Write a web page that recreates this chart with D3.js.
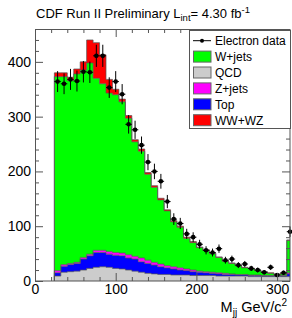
<!DOCTYPE html>
<html><head><meta charset="utf-8">
<script src="https://cdn.jsdelivr.net/npm/d3@7"></script>
<style>body{margin:0;background:#fff}svg{display:block}text{font-family:"Liberation Sans",Arial,sans-serif}</style>
</head><body>
<script>
// ---- data ----
const binStarts = [24,32,40,48,56,64,72,80,88,96,104,112,120,128,136,144,152,160,168,176,184,192,200,208,216,224,232,240,248,256,264,272,280,288,296,304,312];
const binWidth = 8;
const qcd   = [9,16,17,18,20,23,25,26,25,23,22,20,18,16,14,13,12,12,11,11,11,10,10,10,10,9,9,9,9,9,8,8,8,8,8,8,8];
const topQ  = [6,11,13,14,20,23,27,26,24,24,24,22,22,19,18,16,14,12,11,9,8,7,6,5,4,4,3,3,2,2,2,2,1,1,1,1,5];
const zJets = [4,3,2,2,3,3,4,4,5,5,5,6,5,7,6,5,5,4,4,4,3,3,2,2,2,2,2,1,1,1,1,1,1,1,1,1,2];
const wJets = [354,343,334,344,342,349,314,304,289,288,276,249,209,195,157,137,117,100,82,74,56,50,43,39,34,28,22,19,16,12,11,8,6,4,2,3,59];
const wwwz  = [7,7,6,9,15,42,65,53,25,10,5,5,4,4,3,3,3,2,2,2,2,2,1,1,1,1,1,1,1,1,1,1,1,1,1,1,1];
const dataCounts = [364,360,368,365,382,381,411,411,353,364,341,286,276,248,217,200,182,145,113,105,86,80,67,56,52,59,38,40,29,31,23,20,16,25,11,15,90];
const xTicksMajor = [0,100,200,300];
const yTicksMajor = [0,100,200,300,400];
const seriesNames = ["QCD","Top","Z+jets","W+jets","WW+WZ"];
const seriesColors = {"QCD":"#cccccc","Top":"#0000ff","Z+jets":"#ff00ff","W+jets":"#00ff00","WW+WZ":"#ff0000"};
const legendOrder = ["W+jets","QCD","Z+jets","Top","WW+WZ"];

// ---- build ----
const W = 292, H = 318;
const x = d3.scaleLinear().domain([0,316]).range([35,290]);
const y = d3.scaleLinear().domain([0,460]).range([281,29]);

const rows = binStarts.map((b,i)=>({x0:b, x1:b+binWidth, "QCD":qcd[i], "Top":topQ[i], "Z+jets":zJets[i], "W+jets":wJets[i], "WW+WZ":wwwz[i]}));
const stacked = d3.stack().keys(seriesNames)(rows);

const svg = d3.select("body").append("svg").attr("width",W).attr("height",H);
svg.append("defs").append("clipPath").attr("id","clip")
  .append("rect").attr("x",35).attr("y",29).attr("width",255).attr("height",252);

const g = svg.append("g").attr("clip-path","url(#clip)");

stacked.forEach(layer=>{
  const pts = [];
  layer.forEach(d=>{ pts.push({x:d.data.x0,y0:d[0],y1:d[1]}); pts.push({x:d.data.x1,y0:d[0],y1:d[1]}); });
  g.append("path")
    .attr("d", d3.area().x(p=>x(p.x)).y0(p=>y(p.y0)).y1(p=>y(p.y1))(pts))
    .attr("fill", seriesColors[layer.key]);
});
stacked.forEach(layer=>{
  const pts = [];
  const first = layer[0], last = layer[layer.length-1];
  pts.push([first.data.x0, 0]);
  layer.forEach(d=>{ pts.push([d.data.x0,d[1]]); pts.push([d.data.x1,d[1]]); });
  pts.push([last.data.x1, 0]);
  g.append("path")
    .attr("d", d3.line().x(p=>x(p[0])).y(p=>y(p[1]))(pts))
    .attr("fill","none").attr("stroke","#555").attr("stroke-width",0.7);
});

// data points
const dg = svg.append("g");
binStarts.forEach((b,i)=>{
  const cx = x(b+binWidth/2), v = dataCounts[i], e = Math.sqrt(v);
  dg.append("line").attr("x1",cx).attr("x2",cx).attr("y1",y(v-e)).attr("y2",y(v+e)).attr("stroke","#000").attr("stroke-width",1);
  dg.append("line").attr("x1",x(b)).attr("x2",x(b+binWidth)).attr("y1",y(v)).attr("y2",y(v)).attr("stroke","#000").attr("stroke-width",1);
  dg.append("circle").attr("cx",cx).attr("cy",y(v)).attr("r",2.3).attr("fill","#000");
});

// axes
const minorX = d3.range(0,317,20).filter(v=>v%100!==0);
const minorY = d3.range(0,461,20).filter(v=>v%100!==0);
const axStyle = sel=>{ sel.select(".domain").remove(); sel.selectAll("line").attr("stroke","#555"); sel.selectAll("text").attr("font-size",14).attr("fill","#000"); };

svg.append("g").attr("transform","translate(0,281)")
  .call(d3.axisBottom(x).tickValues(xTicksMajor).tickSize(-8).tickPadding(3).tickFormat(d3.format("d"))).call(axStyle);
svg.append("g").attr("transform","translate(0,281)")
  .call(d3.axisBottom(x).tickValues(minorX).tickSize(-4).tickFormat("")).call(axStyle);
svg.append("g").attr("transform","translate(0,29)")
  .call(d3.axisTop(x).tickValues(xTicksMajor).tickSize(-8).tickFormat("")).call(axStyle);
svg.append("g").attr("transform","translate(0,29)")
  .call(d3.axisTop(x).tickValues(minorX).tickSize(-4).tickFormat("")).call(axStyle);
svg.append("g").attr("transform","translate(35,0)")
  .call(d3.axisLeft(y).tickValues(yTicksMajor).tickSize(-8).tickPadding(4).tickFormat(d3.format("d"))).call(axStyle);
svg.append("g").attr("transform","translate(35,0)")
  .call(d3.axisLeft(y).tickValues(minorY).tickSize(-4).tickFormat("")).call(axStyle);
svg.append("g").attr("transform","translate(290,0)")
  .call(d3.axisRight(y).tickValues(yTicksMajor).tickSize(-8).tickFormat("")).call(axStyle);
svg.append("g").attr("transform","translate(290,0)")
  .call(d3.axisRight(y).tickValues(minorY).tickSize(-4).tickFormat("")).call(axStyle);

svg.append("rect").attr("x",35.5).attr("y",29.5).attr("width",254.5).attr("height",251.5)
  .attr("fill","none").attr("stroke","#555").attr("stroke-width",1);

// title
const t = svg.append("text").attr("x",36).attr("y",18).attr("font-size",13).attr("fill","#000");
t.append("tspan").text("CDF Run II Preliminary L");
t.append("tspan").attr("font-size",9.5).attr("dy",3).text("int");
t.append("tspan").attr("dy",-3).text("= 4.30 fb");
t.append("tspan").attr("font-size",9.5).attr("dy",-5).text("-1");

// x axis title
const xt = svg.append("text").attr("x",287).attr("y",312).attr("text-anchor","end").attr("font-size",14.5).attr("fill","#000");
xt.append("tspan").text("M");
xt.append("tspan").attr("font-size",10).attr("dy",4).text("jj");
xt.append("tspan").attr("dy",-4).text(" GeV/c");
xt.append("tspan").attr("font-size",10).attr("dy",-6).text("2");

// legend
const lg = svg.append("g");
lg.append("rect").attr("x",189.5).attr("y",30.5).attr("width",101).attr("height",98)
  .attr("fill","#fff").attr("stroke","#555").attr("stroke-width",1);
const ly0 = 40.7, ldy = 15.9;
lg.append("line").attr("x1",193).attr("x2",211).attr("y1",ly0).attr("y2",ly0).attr("stroke","#000");
lg.append("circle").attr("cx",202).attr("cy",ly0).attr("r",2).attr("fill","#000");
lg.append("text").attr("x",215).attr("y",ly0+4.3).attr("font-size",12).text("Electron data");
legendOrder.forEach((k,i)=>{
  const cy = ly0 + ldy*(i+1);
  lg.append("rect").attr("x",193.5).attr("y",cy-5.5).attr("width",17.5).attr("height",11)
    .attr("fill",seriesColors[k]).attr("stroke","#666").attr("stroke-width",1);
  lg.append("text").attr("x",215).attr("y",cy+4.3).attr("font-size",12).text(k);
});
</script>
</body></html>
